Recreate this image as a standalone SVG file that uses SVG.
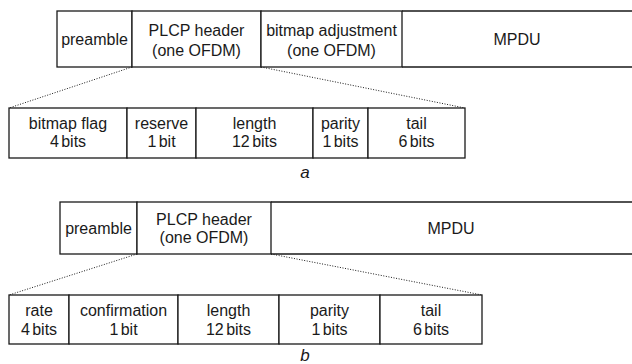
<svg xmlns="http://www.w3.org/2000/svg" width="632" height="364" viewBox="0 0 632 364">
<style>
.box{fill:#fff;stroke:#1a1a1a;stroke-width:1.3}
.ln{fill:none;stroke:#1a1a1a;stroke-width:1.3}
.dot{fill:none;stroke:#1a1a1a;stroke-width:1;stroke-dasharray:1 1.6}
text{font-family:"Liberation Sans",Arial,sans-serif;font-size:16px;fill:#1a1a1a;text-anchor:middle}
.w{word-spacing:-2px}
.lbl{font-style:italic;font-size:17px}
</style>
<rect width="632" height="364" fill="#fff"/>
<g id="connectors">
<line class="dot" x1="132" y1="67" x2="9" y2="108"/>
<line class="dot" x1="261" y1="67" x2="465" y2="108"/>
<line class="dot" x1="137" y1="254" x2="9" y2="295"/>
<line class="dot" x1="271" y1="254" x2="482" y2="295"/>
</g>
<g id="a-preamble"><rect class="box" x="57" y="11" width="75" height="56"/><text x="94.5" y="45">preamble</text></g>
<g id="a-plcp"><rect class="box" x="132" y="11" width="129" height="56"/><text x="196.5" y="35.5">PLCP header</text><text x="196.5" y="55.5">(one OFDM)</text></g>
<g id="a-bitmapadj"><rect class="box" x="261" y="11" width="141" height="56"/><text x="331.5" y="35.5">bitmap adjustment</text><text x="331.5" y="55.5">(one OFDM)</text></g>
<g id="a-mpdu"><path class="ln" d="M402 11H632M402 67H632"/><text x="517" y="45">MPDU</text></g>
<g id="a-flag"><rect class="box" x="9" y="108" width="118" height="50"/><text x="68" y="129">bitmap flag</text><text class="w" x="68" y="147">4 bits</text></g>
<g id="a-reserve"><rect class="box" x="127" y="108" width="69" height="50"/><text x="161.5" y="129">reserve</text><text class="w" x="161.5" y="147">1 bit</text></g>
<g id="a-length"><rect class="box" x="196" y="108" width="117" height="50"/><text x="254.5" y="129">length</text><text class="w" x="254.5" y="147">12 bits</text></g>
<g id="a-parity"><rect class="box" x="313" y="108" width="55" height="50"/><text x="340.5" y="129">parity</text><text class="w" x="340.5" y="147">1 bits</text></g>
<g id="a-tail"><rect class="box" x="368" y="108" width="97" height="50"/><text x="416.5" y="129">tail</text><text class="w" x="416.5" y="147">6 bits</text></g>
<text class="lbl" x="305" y="178">a</text>
<g id="b-preamble"><rect class="box" x="60" y="202" width="77" height="52"/><text x="98.5" y="233.5">preamble</text></g>
<g id="b-plcp"><rect class="box" x="137" y="202" width="134" height="52"/><text x="204" y="224.5">PLCP header</text><text x="204" y="243">(one OFDM)</text></g>
<g id="b-mpdu"><path class="ln" d="M271 202H632M271 254H632"/><text x="451" y="233.5">MPDU</text></g>
<g id="b-rate"><rect class="box" x="9" y="295" width="60" height="49"/><text x="39" y="316">rate</text><text class="w" x="39" y="335">4 bits</text></g>
<g id="b-confirm"><rect class="box" x="69" y="295" width="109" height="49"/><text x="123.5" y="316">confirmation</text><text class="w" x="123.5" y="335">1 bit</text></g>
<g id="b-length"><rect class="box" x="178" y="295" width="101" height="49"/><text x="228.5" y="316">length</text><text class="w" x="228.5" y="335">12 bits</text></g>
<g id="b-parity"><rect class="box" x="279" y="295" width="101" height="49"/><text x="329.5" y="316">parity</text><text class="w" x="329.5" y="335">1 bits</text></g>
<g id="b-tail"><rect class="box" x="380" y="295" width="102" height="49"/><text x="431" y="316">tail</text><text class="w" x="431" y="335">6 bits</text></g>
<text class="lbl" x="305" y="361">b</text>
</svg>
